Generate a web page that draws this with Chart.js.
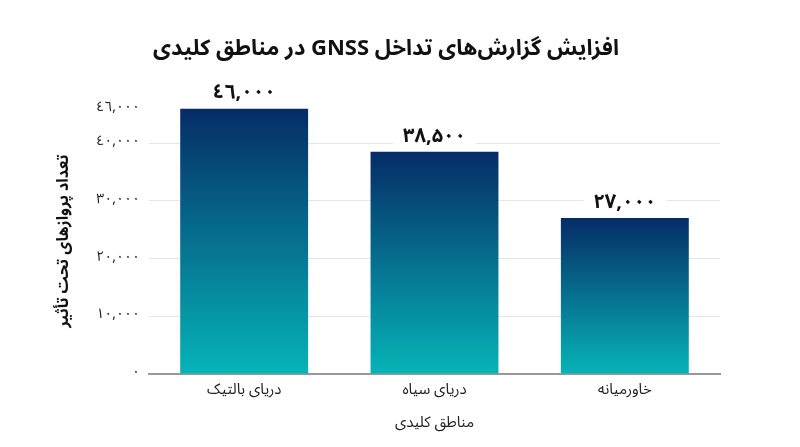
<!DOCTYPE html>
<html lang="fa">
<head>
<meta charset="utf-8">
<script src="https://cdn.jsdelivr.net/npm/chart.js@4.4.1/dist/chart.umd.min.js"></script>
<style>
html,body{margin:0;padding:0;background:#fff;}
#wrap{width:800px;height:447px;position:relative;}
canvas{direction:rtl;}
</style>
</head>
<body>
<div id="wrap"><canvas id="c" dir="rtl"></canvas></div>
<script>
const titleText = "افزایش گزارش‌های تداخل GNSS در مناطق کلیدی";
const categories = ["دریای بالتیک", "دریای سیاه", "خاورمیانه"];
const values = [46000, 38500, 27000];
const valueLabels = ["٤٦,٠٠٠", "۳۸,۵۰۰", "۲۷,۰۰۰"];
const tickValues = [0, 10000, 20000, 30000, 40000, 46000];
const tickLabels = ["۰", "۱۰,۰۰۰", "۲۰,۰۰۰", "۳۰,۰۰۰", "٤٠,٠٠٠", "٤٦,٠٠٠"];
const yTitle = "تعداد پروازهای تحت تأثیر";
const xTitle = "مناطق کلیدی";

const FONT = "'Noto Sans Arabic','Vazirmatn','DejaVu Sans','Noto Sans',sans-serif";

const labelPlugin = {
  id: 'valueLabels',
  afterDatasetsDraw(chart) {
    const ctx = chart.ctx;
    const meta = chart.getDatasetMeta(0);
    ctx.save();
    ctx.font = "bold 20px " + FONT;
    ctx.textAlign = 'center';
    ctx.textBaseline = 'middle';
    meta.data.forEach((bar, i) => {
      const txt = valueLabels[i];
      const y = bar.y - 13;
      const w = ctx.measureText(txt).width;
      ctx.fillStyle = '#fff';
      ctx.fillRect(bar.x - w / 2 - 10, y - 11, w + 20, 22);
      ctx.fillStyle = '#111';
      ctx.fillText(txt, bar.x, y);
    });
    ctx.restore();
  }
};

function barGradient(context) {
  const chart = context.chart;
  const ys = chart.scales && chart.scales.y;
  if (!chart.chartArea || !ys || context.parsed === undefined) return '#0a4f85';
  const top = ys.getPixelForValue(context.parsed.y);
  const bottom = ys.getPixelForValue(0);
  const g = chart.ctx.createLinearGradient(0, top, 0, bottom);
  g.addColorStop(0, '#062c67');
  g.addColorStop(0.5, '#06708f');
  g.addColorStop(1, '#06b4b7');
  return g;
}

new Chart(document.getElementById('c'), {
  type: 'bar',
  data: {
    labels: categories,
    datasets: [{
      data: values,
      backgroundColor: barGradient,
      borderWidth: 0,
      barPercentage: 0.84,
      categoryPercentage: 0.8
    }]
  },
  options: {
    responsive: true,
    maintainAspectRatio: false,
    animation: false,
    layout: { padding: { left: 52, right: 80, top: 0, bottom: 9 } },
    plugins: {
      legend: { display: false },
      tooltip: { enabled: false },
      title: {
        display: true,
        text: titleText,
        color: '#111',
        font: { family: FONT, size: 22, weight: 'bold' },
        padding: { top: 38, bottom: 44 }
      }
    },
    scales: {
      x: {
        grid: { display: false, drawTicks: false },
        border: { display: true, color: '#999', width: 2 },
        ticks: { color: '#222', font: { family: FONT, size: 15 }, padding: 9 },
        title: { display: true, text: xTitle, color: '#222', font: { family: FONT, size: 15 }, padding: { top: 6 } }
      },
      y: {
        min: 0,
        max: 46000,
        afterBuildTicks(axis) { axis.ticks = tickValues.map(v => ({ value: v })); },
        grid: {
          color: (c) => (c.tick && c.tick.value === 46000) ? 'rgba(0,0,0,0)' : '#e6e6e6',
          drawTicks: false,
          lineWidth: 1
        },
        border: { display: false },
        ticks: {
          color: '#222',
          font: { family: FONT, size: 14 },
          padding: 9,
          callback: (v, i) => tickLabels[tickValues.indexOf(v)]
        },
        title: { display: true, text: yTitle, color: '#111', font: { family: FONT, size: 16, weight: 'bold' }, padding: { bottom: 12 } }
      }
    }
  },
  plugins: [labelPlugin]
});
</script>
</body>
</html>
